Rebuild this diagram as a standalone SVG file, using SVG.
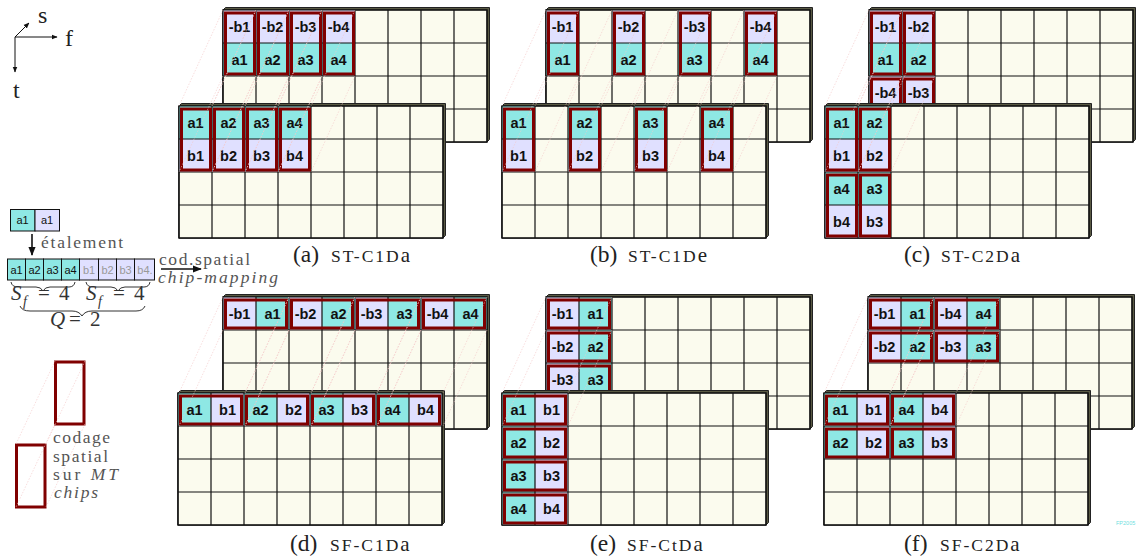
<svg xmlns="http://www.w3.org/2000/svg" xmlns:xlink="http://www.w3.org/1999/xlink" width="1140" height="559" viewBox="0 0 1140 559">
<style>
text{font-family:"Liberation Sans",Arial,sans-serif}
.a{fill:#8ee8e4}.b{fill:#e0e0ff}
.t text{font-size:14.5px;font-weight:700;text-anchor:middle;fill:#111}
.box{fill:none;stroke:#800000;stroke-width:3}
.grid{fill:none;stroke:#111;stroke-width:1.2}
.plate{fill:#fbfbee;stroke:#111;stroke-width:1.2}
.edge{fill:#5a5a44;stroke:#222;stroke-width:1}
.dot{fill:none;stroke:#f4c8c8;stroke-width:.6;stroke-dasharray:1.5 1.5}
.serif,.cap,.sc{font-family:"Liberation Serif","Times New Roman",serif}
.cap{font-size:23.5px;fill:#222}
.sc{font-size:17.5px;letter-spacing:2px;fill:#222}
.sc2{font-size:21px;letter-spacing:0}
.g{font-family:"Liberation Serif","Times New Roman",serif;font-size:17.5px;fill:#555}
.i{font-style:italic}
.m{font-family:"Liberation Serif","Times New Roman",serif;font-size:21px;fill:#333}
.sub{font-size:14px}
.small{font-size:11px;text-anchor:middle;fill:#111}
.small.o{fill:#999}
.cell{stroke:#111;stroke-width:1}
.line{fill:none;stroke:#111;stroke-width:1.6}
.thin{stroke-width:1}
.brace{fill:none;stroke:#333;stroke-width:1}
</style>
<defs>
<marker id="ah" viewBox="0 0 10 10" refX="9" refY="5" markerWidth="6" markerHeight="6" markerUnits="userSpaceOnUse" orient="auto"><path d="M0 1L10 5L0 9Z" fill="#111"/></marker>
<marker id="ah2" viewBox="0 0 10 10" refX="9" refY="5" markerWidth="9" markerHeight="9" markerUnits="userSpaceOnUse" orient="auto"><path d="M0 1L10 5L0 9Z" fill="#111"/></marker>
<g id="plate"><path class="edge" d="M0 0L2.500 -2.500H266.500V129.500L264 132H0Z"/><rect class="plate" width="264" height="132"/></g>
<path id="lines" class="grid" d="M33 0V132M66 0V132M99 0V132M132 0V132M165 0V132M198 0V132M231 0V132M0 33H264M0 66H264M0 99H264M0 0H264V132H0Z"/>
<path id="lv" class="dot" d="M0 0l-44 96M33 0l-44 96M0 66l-44 96M33 66l-44 96"/>
<path id="lh" class="dot" d="M0 0l-44 96M66 0l-44 96M0 33l-44 96M66 33l-44 96"/>
</defs>

<g id="axes">
<path class="line thin" d="M15 37L29 23" marker-end="url(#ah)"/>
<path class="line thin" d="M15 37H57" marker-end="url(#ah)"/>
<path class="line thin" d="M15 37V72" marker-end="url(#ah)"/>
<text class="serif" x="38" y="23" font-size="24" fill="#222">s</text>
<text class="serif" x="65" y="46" font-size="24" fill="#222">f</text>
<text class="serif" x="13" y="98" font-size="24" fill="#222">t</text>
</g>

<g id="symbol-pair">
<rect class="cell a" x="10.500" y="209.500" width="24.500" height="21.500"/><rect class="cell b" x="35" y="209.500" width="24.500" height="21.500"/>
<text class="small" x="22.500" y="224">a1</text><text class="small" x="47" y="224">a1</text>
</g>
<g id="spreading-label"><text class="g" x="41" y="248" textLength="82">étalement</text></g>
<g id="chip-row">
<rect class="cell a" x="7.500" y="259" width="18" height="21"/><rect class="cell a" x="25.500" y="259" width="18" height="21"/><rect class="cell a" x="43.500" y="259" width="18" height="21"/><rect class="cell a" x="61.500" y="259" width="18" height="21"/>
<rect class="cell b" x="79.500" y="259" width="19" height="21"/><rect class="cell b" x="98.500" y="259" width="18" height="21"/><rect class="cell b" x="116.500" y="259" width="18" height="21"/><rect class="cell b" x="134.500" y="259" width="20" height="21"/>
<text class="small" x="16.500" y="273.500">a1</text><text class="small" x="34.500" y="273.500">a2</text><text class="small" x="52.500" y="273.500">a3</text><text class="small" x="70.500" y="273.500">a4</text>
<text class="small o" x="89" y="273.500">b1</text><text class="small o" x="107.500" y="273.500">b2</text><text class="small o" x="125.500" y="273.500">b3</text><text class="small o" x="145" y="273.500">b4.</text>
</g>
<g id="mapping-label">
<text class="g" x="159" y="265" textLength="91">cod.spatial</text>
<text class="g i" x="158" y="283" textLength="120">chip-mapping</text>
</g>
<g id="formula">
<path class="brace" d="M11 282Q12 287 18 287H36Q41 287 43 291Q45 287 50 287H69Q74 287 75 282"/>
<path class="brace" d="M86 282Q87 287 93 287H111Q116 287 118 291Q120 287 125 287H144Q149 287 150 282"/>
<path class="brace" d="M20 306Q22 311 30 311H72Q79 311 82 316Q85 311 92 311H136Q143 311 145 306"/>
<text class="m i" x="11" y="300">S</text><text class="m i sub" x="23" y="306">f</text><text class="m" x="38" y="300">=</text><text class="m" x="59" y="300">4</text>
<text class="m i" x="86" y="300">S</text><text class="m i sub" x="98" y="306">f</text><text class="m" x="113" y="300">=</text><text class="m" x="134" y="300">4</text>
<text class="m i" x="50" y="326">Q</text><text class="m" x="69" y="326">=</text><text class="m" x="90" y="326">2</text>
</g>
<g id="legend">
<rect class="box" x="55.500" y="362" width="28.500" height="62"/>
<rect class="box" x="16.500" y="445" width="28.500" height="62"/>
<path class="dot" d="M55 361L16 444M85 361L46 444M55 424L16 507M85 424L46 507"/>
<text class="g" x="53" y="443" textLength="57">codage</text>
<text class="g" x="53" y="462" textLength="55">spatial</text>
<text class="g" x="53" y="480" textLength="65">sur <tspan class="i">MT</tspan></text>
<text class="g i" x="54" y="498" textLength="44">chips</text>
</g>

<g id="a-back" class="t" transform="translate(223,10)"><use href="#plate"/>
<rect class="b" width="33" height="33"/><rect class="b" x="33" width="33" height="33"/><rect class="b" x="66" width="33" height="33"/><rect class="b" x="99" width="33" height="33"/>
<rect class="a" y="33" width="33" height="33"/><rect class="a" x="33" y="33" width="33" height="33"/><rect class="a" x="66" y="33" width="33" height="33"/><rect class="a" x="99" y="33" width="33" height="33"/>
<use href="#lines"/>
<rect class="box" x="2.500" y="3" width="29" height="61"/><rect class="box" x="35.500" y="3" width="29" height="61"/><rect class="box" x="68.500" y="3" width="29" height="61"/><rect class="box" x="101.500" y="3" width="29" height="61"/>
<text x="16.500" y="22">-b1</text><text x="49.500" y="22">-b2</text><text x="82.500" y="22">-b3</text><text x="115.500" y="22">-b4</text>
<text x="16.500" y="55">a1</text><text x="49.500" y="55">a2</text><text x="82.500" y="55">a3</text><text x="115.500" y="55">a4</text>
</g>
<g id="a-front" class="t" transform="translate(179,106)"><use href="#plate"/>
<rect class="a" width="33" height="33"/><rect class="a" x="33" width="33" height="33"/><rect class="a" x="66" width="33" height="33"/><rect class="a" x="99" width="33" height="33"/>
<rect class="b" y="33" width="33" height="33"/><rect class="b" x="33" y="33" width="33" height="33"/><rect class="b" x="66" y="33" width="33" height="33"/><rect class="b" x="99" y="33" width="33" height="33"/>
<use href="#lines"/>
<rect class="box" x="2.500" y="3" width="29" height="61"/><rect class="box" x="35.500" y="3" width="29" height="61"/><rect class="box" x="68.500" y="3" width="29" height="61"/><rect class="box" x="101.500" y="3" width="29" height="61"/>
<text x="16.500" y="22">a1</text><text x="49.500" y="22">a2</text><text x="82.500" y="22">a3</text><text x="115.500" y="22">a4</text>
<text x="16.500" y="55">b1</text><text x="49.500" y="55">b2</text><text x="82.500" y="55">b3</text><text x="115.500" y="55">b4</text>
</g>

<g id="b-back" class="t" transform="translate(546,10)"><use href="#plate"/>
<rect class="b" width="33" height="33"/><rect class="b" x="66" width="33" height="33"/><rect class="b" x="132" width="33" height="33"/><rect class="b" x="198" width="33" height="33"/>
<rect class="a" y="33" width="33" height="33"/><rect class="a" x="66" y="33" width="33" height="33"/><rect class="a" x="132" y="33" width="33" height="33"/><rect class="a" x="198" y="33" width="33" height="33"/>
<use href="#lines"/>
<rect class="box" x="2.500" y="3" width="29" height="61"/><rect class="box" x="68.500" y="3" width="29" height="61"/><rect class="box" x="134.500" y="3" width="29" height="61"/><rect class="box" x="200.500" y="3" width="29" height="61"/>
<text x="16.500" y="22">-b1</text><text x="82.500" y="22">-b2</text><text x="148.500" y="22">-b3</text><text x="214.500" y="22">-b4</text>
<text x="16.500" y="55">a1</text><text x="82.500" y="55">a2</text><text x="148.500" y="55">a3</text><text x="214.500" y="55">a4</text>
</g>
<g id="b-front" class="t" transform="translate(502,106)"><use href="#plate"/>
<rect class="a" width="33" height="33"/><rect class="a" x="66" width="33" height="33"/><rect class="a" x="132" width="33" height="33"/><rect class="a" x="198" width="33" height="33"/>
<rect class="b" y="33" width="33" height="33"/><rect class="b" x="66" y="33" width="33" height="33"/><rect class="b" x="132" y="33" width="33" height="33"/><rect class="b" x="198" y="33" width="33" height="33"/>
<use href="#lines"/>
<rect class="box" x="2.500" y="3" width="29" height="61"/><rect class="box" x="68.500" y="3" width="29" height="61"/><rect class="box" x="134.500" y="3" width="29" height="61"/><rect class="box" x="200.500" y="3" width="29" height="61"/>
<text x="16.500" y="22">a1</text><text x="82.500" y="22">a2</text><text x="148.500" y="22">a3</text><text x="214.500" y="22">a4</text>
<text x="16.500" y="55">b1</text><text x="82.500" y="55">b2</text><text x="148.500" y="55">b3</text><text x="214.500" y="55">b4</text>
</g>

<g id="c-back" class="t" transform="translate(869,10)"><use href="#plate"/>
<rect class="b" width="33" height="33"/><rect class="b" x="33" width="33" height="33"/>
<rect class="a" y="33" width="33" height="33"/><rect class="a" x="33" y="33" width="33" height="33"/>
<rect class="b" y="66" width="33" height="33"/><rect class="b" x="33" y="66" width="33" height="33"/>
<use href="#lines"/>
<rect class="box" x="2.500" y="3" width="29" height="61"/><rect class="box" x="35.500" y="3" width="29" height="61"/>
<rect class="box" x="2.500" y="69" width="29" height="61"/><rect class="box" x="35.500" y="69" width="29" height="61"/>
<text x="16.500" y="22">-b1</text><text x="49.500" y="22">-b2</text>
<text x="16.500" y="55">a1</text><text x="49.500" y="55">a2</text>
<text x="16.500" y="88">-b4</text><text x="49.500" y="88">-b3</text>
</g>
<g id="c-front" class="t" transform="translate(825,106)"><use href="#plate"/>
<rect class="a" width="33" height="33"/><rect class="a" x="33" width="33" height="33"/>
<rect class="b" y="33" width="33" height="33"/><rect class="b" x="33" y="33" width="33" height="33"/>
<rect class="a" y="66" width="33" height="33"/><rect class="a" x="33" y="66" width="33" height="33"/>
<rect class="b" y="99" width="33" height="33"/><rect class="b" x="33" y="99" width="33" height="33"/>
<use href="#lines"/>
<rect class="box" x="2.500" y="3" width="29" height="61"/><rect class="box" x="35.500" y="3" width="29" height="61"/>
<rect class="box" x="2.500" y="69" width="29" height="61"/><rect class="box" x="35.500" y="69" width="29" height="61"/>
<text x="16.500" y="22">a1</text><text x="49.500" y="22">a2</text>
<text x="16.500" y="55">b1</text><text x="49.500" y="55">b2</text>
<text x="16.500" y="88">a4</text><text x="49.500" y="88">a3</text>
<text x="16.500" y="121">b4</text><text x="49.500" y="121">b3</text>
</g>

<g id="d-back" class="t" transform="translate(223,297)"><use href="#plate"/>
<rect class="b" width="33" height="33"/><rect class="a" x="33" width="33" height="33"/><rect class="b" x="66" width="33" height="33"/><rect class="a" x="99" width="33" height="33"/><rect class="b" x="132" width="33" height="33"/><rect class="a" x="165" width="33" height="33"/><rect class="b" x="198" width="33" height="33"/><rect class="a" x="231" width="33" height="33"/>
<use href="#lines"/>
<rect class="box" x="2.500" y="3" width="61" height="28"/><rect class="box" x="68.500" y="3" width="61" height="28"/><rect class="box" x="134.500" y="3" width="61" height="28"/><rect class="box" x="200.500" y="3" width="61" height="28"/>
<text x="16.500" y="22">-b1</text><text x="49.500" y="22">a1</text><text x="82.500" y="22">-b2</text><text x="115.500" y="22">a2</text><text x="148.500" y="22">-b3</text><text x="181.500" y="22">a3</text><text x="214.500" y="22">-b4</text><text x="247.500" y="22">a4</text>
</g>
<g id="d-front" class="t" transform="translate(178,393)"><use href="#plate"/>
<rect class="a" width="33" height="33"/><rect class="b" x="33" width="33" height="33"/><rect class="a" x="66" width="33" height="33"/><rect class="b" x="99" width="33" height="33"/><rect class="a" x="132" width="33" height="33"/><rect class="b" x="165" width="33" height="33"/><rect class="a" x="198" width="33" height="33"/><rect class="b" x="231" width="33" height="33"/>
<use href="#lines"/>
<rect class="box" x="2.500" y="3" width="61" height="28"/><rect class="box" x="68.500" y="3" width="61" height="28"/><rect class="box" x="134.500" y="3" width="61" height="28"/><rect class="box" x="200.500" y="3" width="61" height="28"/>
<text x="16.500" y="22">a1</text><text x="49.500" y="22">b1</text><text x="82.500" y="22">a2</text><text x="115.500" y="22">b2</text><text x="148.500" y="22">a3</text><text x="181.500" y="22">b3</text><text x="214.500" y="22">a4</text><text x="247.500" y="22">b4</text>
</g>

<g id="e-back" class="t" transform="translate(546,297)"><use href="#plate"/>
<rect class="b" width="33" height="33"/><rect class="a" x="33" width="33" height="33"/>
<rect class="b" y="33" width="33" height="33"/><rect class="a" x="33" y="33" width="33" height="33"/>
<rect class="b" y="66" width="33" height="33"/><rect class="a" x="33" y="66" width="33" height="33"/>
<use href="#lines"/>
<rect class="box" x="2.500" y="3" width="61" height="28"/><rect class="box" x="2.500" y="36" width="61" height="28"/><rect class="box" x="2.500" y="69" width="61" height="28"/>
<text x="16.500" y="22">-b1</text><text x="49.500" y="22">a1</text>
<text x="16.500" y="55">-b2</text><text x="49.500" y="55">a2</text>
<text x="16.500" y="88">-b3</text><text x="49.500" y="88">a3</text>
</g>
<g id="e-front" class="t" transform="translate(502,393)"><use href="#plate"/>
<rect class="a" width="33" height="33"/><rect class="b" x="33" width="33" height="33"/>
<rect class="a" y="33" width="33" height="33"/><rect class="b" x="33" y="33" width="33" height="33"/>
<rect class="a" y="66" width="33" height="33"/><rect class="b" x="33" y="66" width="33" height="33"/>
<rect class="a" y="99" width="33" height="33"/><rect class="b" x="33" y="99" width="33" height="33"/>
<use href="#lines"/>
<rect class="box" x="2.500" y="3" width="61" height="28"/><rect class="box" x="2.500" y="36" width="61" height="28"/><rect class="box" x="2.500" y="69" width="61" height="28"/><rect class="box" x="2.500" y="102" width="61" height="28"/>
<text x="16.500" y="22">a1</text><text x="49.500" y="22">b1</text>
<text x="16.500" y="55">a2</text><text x="49.500" y="55">b2</text>
<text x="16.500" y="88">a3</text><text x="49.500" y="88">b3</text>
<text x="16.500" y="121">a4</text><text x="49.500" y="121">b4</text>
</g>

<g id="f-back" class="t" transform="translate(868,297)"><use href="#plate"/>
<rect class="b" width="33" height="33"/><rect class="a" x="33" width="33" height="33"/><rect class="b" x="66" width="33" height="33"/><rect class="a" x="99" width="33" height="33"/>
<rect class="b" y="33" width="33" height="33"/><rect class="a" x="33" y="33" width="33" height="33"/><rect class="b" x="66" y="33" width="33" height="33"/><rect class="a" x="99" y="33" width="33" height="33"/>
<use href="#lines"/>
<rect class="box" x="2.500" y="3" width="61" height="28"/><rect class="box" x="68.500" y="3" width="61" height="28"/><rect class="box" x="2.500" y="36" width="61" height="28"/><rect class="box" x="68.500" y="36" width="61" height="28"/>
<text x="16.500" y="22">-b1</text><text x="49.500" y="22">a1</text><text x="82.500" y="22">-b4</text><text x="115.500" y="22">a4</text>
<text x="16.500" y="55">-b2</text><text x="49.500" y="55">a2</text><text x="82.500" y="55">-b3</text><text x="115.500" y="55">a3</text>
</g>
<g id="f-front" class="t" transform="translate(824,393)"><use href="#plate"/>
<rect class="a" width="33" height="33"/><rect class="b" x="33" width="33" height="33"/><rect class="a" x="66" width="33" height="33"/><rect class="b" x="99" width="33" height="33"/>
<rect class="a" y="33" width="33" height="33"/><rect class="b" x="33" y="33" width="33" height="33"/><rect class="a" x="66" y="33" width="33" height="33"/><rect class="b" x="99" y="33" width="33" height="33"/>
<use href="#lines"/>
<rect class="box" x="2.500" y="3" width="61" height="28"/><rect class="box" x="68.500" y="3" width="61" height="28"/><rect class="box" x="2.500" y="36" width="61" height="28"/><rect class="box" x="68.500" y="36" width="61" height="28"/>
<text x="16.500" y="22">a1</text><text x="49.500" y="22">b1</text><text x="82.500" y="22">a4</text><text x="115.500" y="22">b4</text>
<text x="16.500" y="55">a2</text><text x="49.500" y="55">b2</text><text x="82.500" y="55">a3</text><text x="115.500" y="55">b3</text>
</g>

<g id="connectors">
<path class="line" d="M32 234V255" marker-end="url(#ah2)"/>
<path class="line" d="M161 269H201" marker-end="url(#ah2)"/>
<use href="#lv" x="223" y="10"/><use href="#lv" x="256" y="10"/><use href="#lv" x="289" y="10"/><use href="#lv" x="322" y="10"/>
<use href="#lv" x="546" y="10"/><use href="#lv" x="612" y="10"/><use href="#lv" x="678" y="10"/><use href="#lv" x="744" y="10"/>
<use href="#lv" x="869" y="10"/><use href="#lv" x="902" y="10"/>
<use href="#lh" x="223" y="297"/><use href="#lh" x="289" y="297"/><use href="#lh" x="355" y="297"/><use href="#lh" x="421" y="297"/>
<use href="#lh" x="546" y="297"/>
<use href="#lh" x="868" y="297"/><use href="#lh" x="934" y="297"/>
</g>

<g id="captions">
<text class="cap" x="293" y="262">(a)</text><text class="sc" x="331" y="262">ST-C1D<tspan class="sc2">a</tspan></text>
<text class="cap" x="590" y="262">(b)</text><text class="sc" x="628" y="262">ST-C1D<tspan class="sc2">e</tspan></text>
<text class="cap" x="904" y="262">(c)</text><text class="sc" x="941" y="262">ST-C2D<tspan class="sc2">a</tspan></text>
<text class="cap" x="290" y="551">(d)</text><text class="sc" x="330" y="551">SF-C1D<tspan class="sc2">a</tspan></text>
<text class="cap" x="590" y="551">(e)</text><text class="sc" x="627" y="551">SF-CtD<tspan class="sc2">a</tspan></text>
<text class="cap" x="904" y="551">(f)</text><text class="sc" x="940" y="551">SF-C2D<tspan class="sc2">a</tspan></text>
</g>
<g id="credit"><text x="1116" y="525" font-size="5.5" fill="#70e0e0">FP2005</text></g>
</svg>
